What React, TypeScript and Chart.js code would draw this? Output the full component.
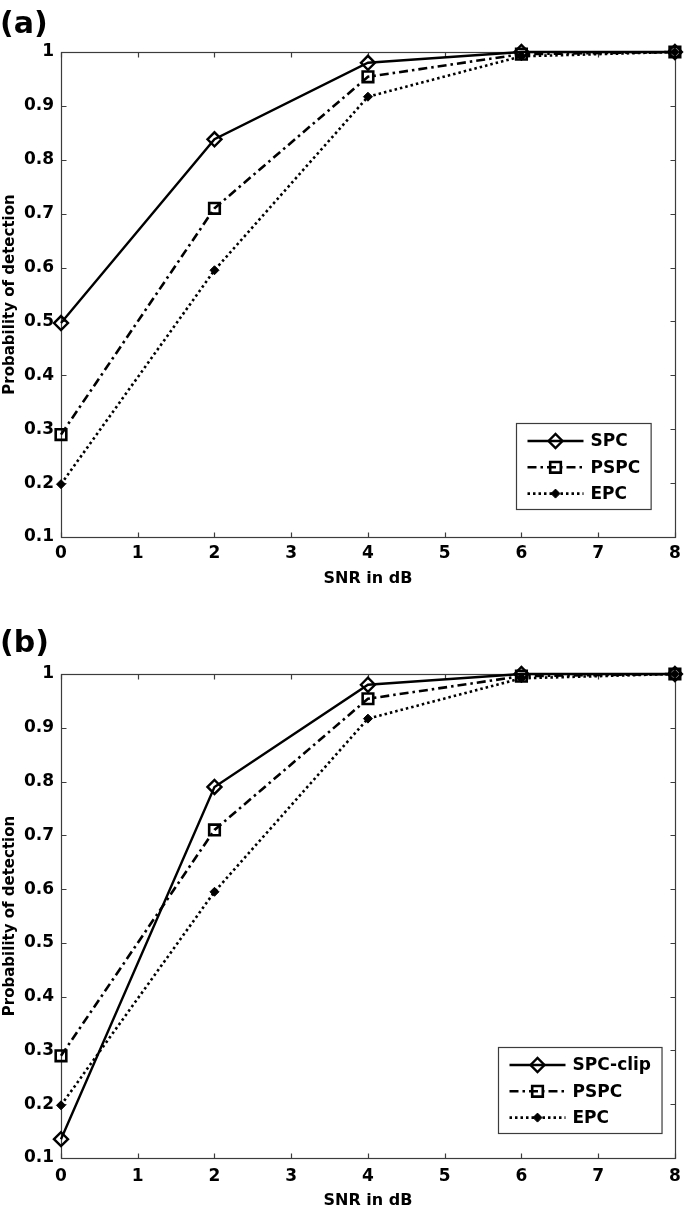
import React, { useEffect, useRef } from 'react';
import { Chart, registerables } from 'chart.js';
import { drawPoint } from 'chart.js/helpers';

Chart.register(...registerables);

// ---------- data ----------
const snrDb = [0, 2, 4, 6, 8];
const spcA = [0.497, 0.838, 0.98, 1.0, 1.0];
const spcClipB = [0.135, 0.79, 0.98, 1.0, 1.0];
const pspc = [0.29, 0.71, 0.954, 0.996, 1.0];
const epc = [0.198, 0.595, 0.917, 0.992, 1.0];
const xTicks = [0, 1, 2, 3, 4, 5, 6, 7, 8];
const yTicks = [0.1, 0.2, 0.3, 0.4, 0.5, 0.6, 0.7, 0.8, 0.9, 1];

const FONT = "'DejaVu Sans', 'Liberation Sans', sans-serif";

const framePlugin = {
  id: 'matlabFrame',
  beforeDatasetsDraw(chart: any) {
    const { ctx, chartArea: ca, scales } = chart;
    const xs = scales.x;
    const ys = scales.y;
    ctx.save();
    ctx.strokeStyle = '#3c3c3c';
    ctx.lineWidth = 1.2;
    ctx.setLineDash([]);
    const L = Math.round(ca.left) + 0.5;
    const R = Math.round(ca.right) + 0.5;
    const T = Math.round(ca.top) + 0.5;
    const B = Math.round(ca.bottom) + 0.5;
    ctx.strokeRect(L, T, R - L, B - T);
    const tl = 5;
    ctx.beginPath();
    xTicks.forEach((v) => {
      const px = Math.round(xs.getPixelForValue(v)) + 0.5;
      ctx.moveTo(px, B);
      ctx.lineTo(px, B - tl);
      ctx.moveTo(px, T);
      ctx.lineTo(px, T + tl);
    });
    yTicks.forEach((v) => {
      const py = Math.round(ys.getPixelForValue(v)) + 0.5;
      ctx.moveTo(L, py);
      ctx.lineTo(L + tl, py);
      ctx.moveTo(R, py);
      ctx.lineTo(R - tl, py);
    });
    ctx.stroke();
    ctx.restore();
  },
};

const legendPlugin = {
  id: 'boxLegend',
  afterDraw(chart: any, _args: any, opts: any) {
    const { ctx, chartArea: ca } = chart;
    const items = chart.data.datasets;
    ctx.save();
    ctx.font = `bold 17px ${FONT}`;
    const textW = Math.max(...items.map((d: any) => ctx.measureText(d.label).width));
    const padL = 11;
    const lineLen = 56;
    const gap = 7;
    const padR = 11;
    const h = 86;
    const w = padL + lineLen + gap + textW + padR;
    const bx = Math.round(ca.right - opts.rightGap - w) + 0.5;
    const by = Math.round(ca.bottom - opts.bottomGap - h) + 0.5;
    ctx.fillStyle = '#ffffff';
    ctx.fillRect(bx, by, w, h);
    ctx.strokeStyle = '#3c3c3c';
    ctx.lineWidth = 1.2;
    ctx.setLineDash([]);
    ctx.strokeRect(bx, by, w, h);
    items.forEach((d: any, i: number) => {
      const ry = by + 17.5 + i * 26.3;
      const x0 = bx + padL;
      const x1 = x0 + lineLen;
      ctx.strokeStyle = d.borderColor;
      ctx.lineWidth = d.borderWidth;
      ctx.setLineDash(d.borderDash || []);
      ctx.beginPath();
      ctx.moveTo(x0, ry);
      ctx.lineTo(x1, ry);
      ctx.stroke();
      ctx.setLineDash([]);
      ctx.fillStyle = d.pointBackgroundColor;
      ctx.strokeStyle = d.pointBorderColor;
      ctx.lineWidth = d.pointBorderWidth;
      drawPoint(
        ctx,
        { pointStyle: d.pointStyle, rotation: 0, radius: d.pointRadius, borderWidth: d.pointBorderWidth },
        (x0 + x1) / 2,
        ry
      );
      ctx.fillStyle = '#000';
      ctx.textBaseline = 'middle';
      ctx.textAlign = 'left';
      ctx.font = `bold 17px ${FONT}`;
      ctx.fillText(d.label, x1 + gap, ry + 1);
    });
    ctx.restore();
  },
};

function pts(vals: number[]) {
  return snrDb.map((x, i) => ({ x, y: vals[i] }));
}

interface PanelProps {
  label: string;
  firstLabel: string;
  firstValues: number[];
  height: number;
  titleTop: number;
  titleBottom: number;
  axisHeight: number;
  xTickPad: number;
  xTitleBottom: number;
  legendRight: number;
  legendBottom: number;
}

function Panel(p: PanelProps) {
  const ref = useRef<HTMLCanvasElement | null>(null);
  useEffect(() => {
    if (!ref.current) return;
    const chart = new Chart(ref.current, {
      type: 'line',
      data: {
        datasets: [
          {
            label: p.firstLabel,
            data: pts(p.firstValues),
            borderColor: '#000',
            borderWidth: 2.4,
            borderDash: [],
            pointStyle: 'rectRot',
            pointRadius: 7,
            pointBackgroundColor: 'rgba(255,255,255,0)',
            pointBorderColor: '#000',
            pointBorderWidth: 2.4,
            tension: 0,
            clip: false,
          } as any,
          {
            label: 'PSPC',
            data: pts(pspc),
            borderColor: '#000',
            borderWidth: 2.6,
            borderDash: [9, 4, 2.5, 4],
            pointStyle: 'rect',
            pointRadius: 7.5,
            pointBackgroundColor: 'rgba(255,255,255,0)',
            pointBorderColor: '#000',
            pointBorderWidth: 2.6,
            tension: 0,
            clip: false,
          } as any,
          {
            label: 'EPC',
            data: pts(epc),
            borderColor: '#000',
            borderWidth: 2.6,
            borderDash: [2.5, 3],
            pointStyle: 'rectRot',
            pointRadius: 4.5,
            pointBackgroundColor: '#000',
            pointBorderColor: '#000',
            pointBorderWidth: 1,
            tension: 0,
            clip: false,
          } as any,
        ],
      },
      options: {
        animation: false,
        responsive: false,
        devicePixelRatio: 1,
        events: [],
        layout: { padding: { left: 0, right: 8, top: 0, bottom: 0 } },
        plugins: {
          legend: { display: false },
          tooltip: { enabled: false },
          title: {
            display: true,
            text: p.label,
            align: 'start',
            color: '#000',
            font: { family: FONT, size: 30, weight: 'bold', lineHeight: 1.2 },
            padding: { top: p.titleTop, bottom: p.titleBottom },
          },
          boxLegend: { rightGap: p.legendRight, bottomGap: p.legendBottom },
        } as any,
        scales: {
          x: {
            type: 'linear',
            min: 0,
            max: 8,
            grid: { display: false, drawTicks: false },
            border: { display: false },
            afterBuildTicks: (s: any) => {
              s.ticks = xTicks.map((v) => ({ value: v }));
            },
            afterFit: (s: any) => {
              s.height = p.axisHeight;
              s.paddingLeft = 0;
              s.paddingRight = 0;
            },
            ticks: {
              color: '#000',
              padding: p.xTickPad,
              font: { family: FONT, size: 17, weight: 'bold', lineHeight: 1.2 },
              callback: (v: any) => String(v),
            },
            title: {
              display: true,
              text: 'SNR in dB',
              color: '#000',
              font: { family: FONT, size: 16, weight: 'bold', lineHeight: 1.2 },
              padding: { top: 0, bottom: p.xTitleBottom },
            },
          },
          y: {
            type: 'linear',
            min: 0.1,
            max: 1,
            grid: { display: false, drawTicks: false },
            border: { display: false },
            afterBuildTicks: (s: any) => {
              s.ticks = yTicks.map((v) => ({ value: v }));
            },
            afterFit: (s: any) => {
              s.width = 61;
              s.paddingTop = 0;
              s.paddingBottom = 0;
            },
            ticks: {
              color: '#000',
              padding: 7,
              font: { family: FONT, size: 17, weight: 'bold', lineHeight: 1.2 },
              callback: (v: any) => String(Number(Number(v).toFixed(1))),
            },
            title: {
              display: true,
              text: 'Probability of detection',
              color: '#000',
              font: { family: FONT, size: 15, weight: 'bold', lineHeight: 1.2 },
              padding: { top: 1, bottom: 0 },
            },
          },
        },
      },
      plugins: [framePlugin, legendPlugin],
    });
    return () => chart.destroy();
  }, []);
  return (
    <canvas
      ref={ref}
      width={685}
      height={p.height}
      style={{ display: 'block', width: 685, height: p.height }}
    />
  );
}

export default function App() {
  return (
    <div style={{ position: 'absolute', left: 0, top: 0, width: 685, height: 1210, background: '#fff' }}>
      <Panel
        label="(a)"
        firstLabel="SPC"
        firstValues={spcA}
        height={600}
        titleTop={7}
        titleBottom={9}
        axisHeight={63}
        xTickPad={6}
        xTitleBottom={12}
        legendRight={24}
        legendBottom={28}
      />
      <Panel
        label="(b)"
        firstLabel="SPC-clip"
        firstValues={spcClipB}
        height={610}
        titleTop={26}
        titleBottom={12}
        axisHeight={52}
        xTickPad={8.5}
        xTitleBottom={0}
        legendRight={13}
        legendBottom={25}
      />
    </div>
  );
}
